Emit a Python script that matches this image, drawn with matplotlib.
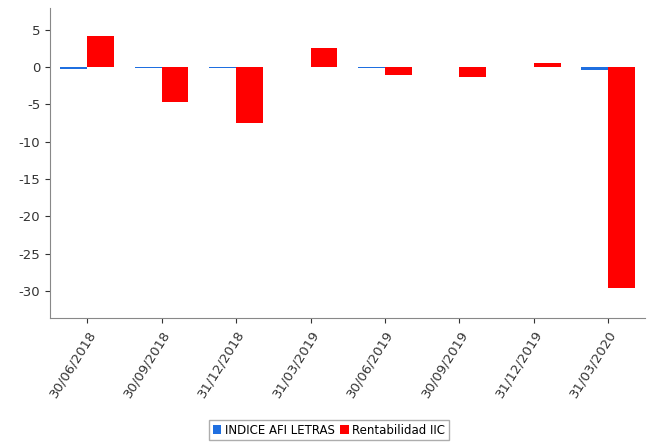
import numpy as np
from matplotlib import pyplot as plt

plt.rcParams['axes.unicode_minus'] = False

fechas = ['30/06/2018', '30/09/2018', '31/12/2018', '31/03/2019',
          '30/06/2019', '30/09/2019', '31/12/2019', '31/03/2020']
indice_afi = [-0.2, -0.1, -0.1, -0.05, -0.1, -0.05, -0.05, -0.4]
rentabilidad = [4.2, -4.7, -7.5, 2.6, -1.0, -1.3, 0.5, -29.6]

fig = plt.figure(figsize=(6.58, 4.46), dpi=100)
ax = fig.add_axes([0.076, 0.287, 0.905, 0.695])
x = np.arange(len(fechas))
w = 0.36
ax.bar(x - w/2, indice_afi, w, color='#1f6fe0', label='INDICE AFI LETRAS')
ax.bar(x + w/2, rentabilidad, w, color='#ff0000', label='Rentabilidad IIC')
ax.set_xlim(-0.5, len(fechas) - 0.5)
ax.set_ylim(-33.6, 7.9)
ax.set_yticks([5, 0, -5, -10, -15, -20, -25, -30])
ax.set_xticks(x)
ax.set_xticklabels(fechas, rotation=58, ha='right', rotation_mode='anchor')
ax.tick_params(labelsize=9.5, colors='#333333')
ax.spines['top'].set_visible(False)
ax.spines['right'].set_visible(False)
for s in ax.spines.values():
    s.set_color('#888888')
fig.legend(loc='lower center', bbox_to_anchor=(0.5, 0.0), ncol=2, fontsize=8.5,
           handlelength=0.7, handleheight=0.7, handletextpad=0.3,
           columnspacing=0.5, fancybox=False, edgecolor='#999999',
           borderpad=0.3)
fig.savefig('out.png')
